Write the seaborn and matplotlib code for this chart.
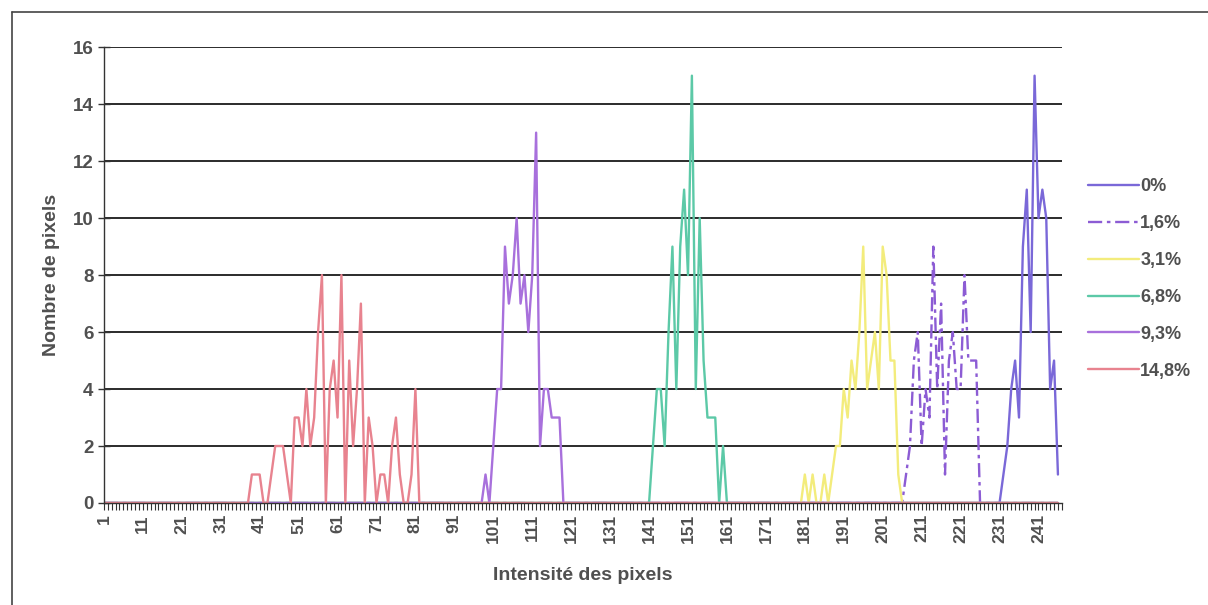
import numpy as np
import pandas as pd
import matplotlib
matplotlib.use("Agg")
from matplotlib import pyplot as plt
from matplotlib.lines import Line2D
import seaborn as sns

# pixel intensities on the x axis (category axis 1..246)
intensity = np.arange(1, 247)

# each histogram is zero outside the range where it has counts
# (first intensity, counts)
start_0 = 231
counts_0 = [0, 1, 2, 4, 5, 3, 9, 11, 6, 15, 10, 11, 10, 4, 5, 1]

start_16 = 205
counts_16 = [0, 0, 1, 2, 5, 6, 2, 4, 3, 9, 4, 7, 1, 5, 6, 4, 4, 8, 5, 5, 5, 0]

start_31 = 180
counts_31 = [0, 1, 0, 1, 0, 0, 1, 0, 1, 2, 2, 4, 3, 5, 4, 6, 9, 4, 5, 6, 4, 9, 8, 5, 5, 1, 0]

start_68 = 141
counts_68 = [0, 2, 4, 4, 2, 6, 9, 4, 9, 11, 8, 15, 4, 10, 5, 3, 3, 3, 0, 2, 0]

start_93 = 98
counts_93 = [0, 1, 0, 2, 4, 4, 9, 7, 8, 10, 7, 8, 6, 8, 13, 2, 4, 4, 3, 3, 3, 0]

start_148 = 39
counts_148 = [1, 1, 1, 0, 0, 1, 2, 2, 2, 1, 0, 3, 3, 2, 4, 2, 3, 6, 8, 0, 4, 5,
              3, 8, 0, 5, 2, 4, 7, 0, 3, 2, 0, 1, 1, 0, 2, 3, 1, 0, 0, 1, 4, 0]

labels = ['0%', '1,6%', '3,1%', '6,8%', '9,3%', '14,8%']
starts = [start_0, start_16, start_31, start_68, start_93, start_148]
counts = [counts_0, counts_16, counts_31, counts_68, counts_93, counts_148]
colors = ['#7a68d8', '#8c5cd4', '#f3ec7c', '#5cc9a7', '#a870dc', '#e8838f']
dashes = ['-', (0, (6, 2, 1.5, 2)), '-', '-', '-', '-']


def full_series(start, vals):
    y = np.zeros(len(intensity))
    y[start - 1:start - 1 + len(vals)] = vals
    return y


sns.set_theme(style='white')
plt.rcParams['font.family'] = ['Liberation Sans', 'DejaVu Sans']
plt.rcParams['font.weight'] = 'bold'
txt = '#505050'

fig = plt.figure(figsize=(12.08, 6.05), dpi=100)
ax = fig.add_axes([0.086, 0.1686, 0.793, 0.7534])

for lab, st, vals, col, ls in zip(labels, starts, counts, colors, dashes):
    df = pd.DataFrame({'x': intensity, 'y': full_series(st, vals)})
    sns.lineplot(data=df, x='x', y='y', ax=ax, color=col, lw=1.7,
                 linestyle=ls, label=lab)

ax.set_xlim(1, 247)
ax.set_ylim(0, 16)
ax.set_yticks(range(0, 17, 2))
ax.set_xticks(range(1, 247, 10))
ax.set_xticks(range(1, 248), minor=True)
ax.set_xticklabels([str(v) for v in range(1, 247, 10)], rotation=90)

for yv in range(2, 17, 2):
    ax.axhline(yv, color='#1a1a1a', lw=1.3, zorder=0)

for s in ['top', 'right']:
    ax.spines[s].set_visible(False)
for s in ['left', 'bottom']:
    ax.spines[s].set_color('#333333')
    ax.spines[s].set_linewidth(1.0)

ax.tick_params(axis='y', direction='inout', length=9, width=1, color='#333333',
               labelsize=13.5, labelcolor=txt, pad=3, left=True)
ax.tick_params(axis='x', which='both', direction='out', length=5, width=0.8,
               color='#333333', labelsize=12.5, labelcolor=txt, pad=3, bottom=True)

ax.set_xlabel('Intensité des pixels', fontsize=14, color=txt, fontweight='bold')
ax.set_ylabel('Nombre de pixels', fontsize=14, color=txt, fontweight='bold')
ax.xaxis.set_label_coords(0.5, -0.14)
ax.yaxis.set_label_coords(-0.046, 0.5)

leg = ax.legend(loc='center left', bbox_to_anchor=(1088 / 1208, 1 - 279 / 605),
                bbox_transform=fig.transFigure, frameon=False, fontsize=13,
                handlelength=2.8, handletextpad=0.1, labelspacing=1.1,
                borderaxespad=0, borderpad=0)
for t in leg.get_texts():
    t.set_color(txt)
    t.set_fontweight('bold')

# scanned page border
fig.add_artist(Line2D([12 / 1208, 12 / 1208], [0, 1 - 12 / 605],
                      transform=fig.transFigure, color='#444444', lw=1.2))
fig.add_artist(Line2D([12 / 1208, 1], [1 - 12 / 605, 1 - 12 / 605],
                      transform=fig.transFigure, color='#444444', lw=1.2))

fig.savefig('out.png', dpi=100)
